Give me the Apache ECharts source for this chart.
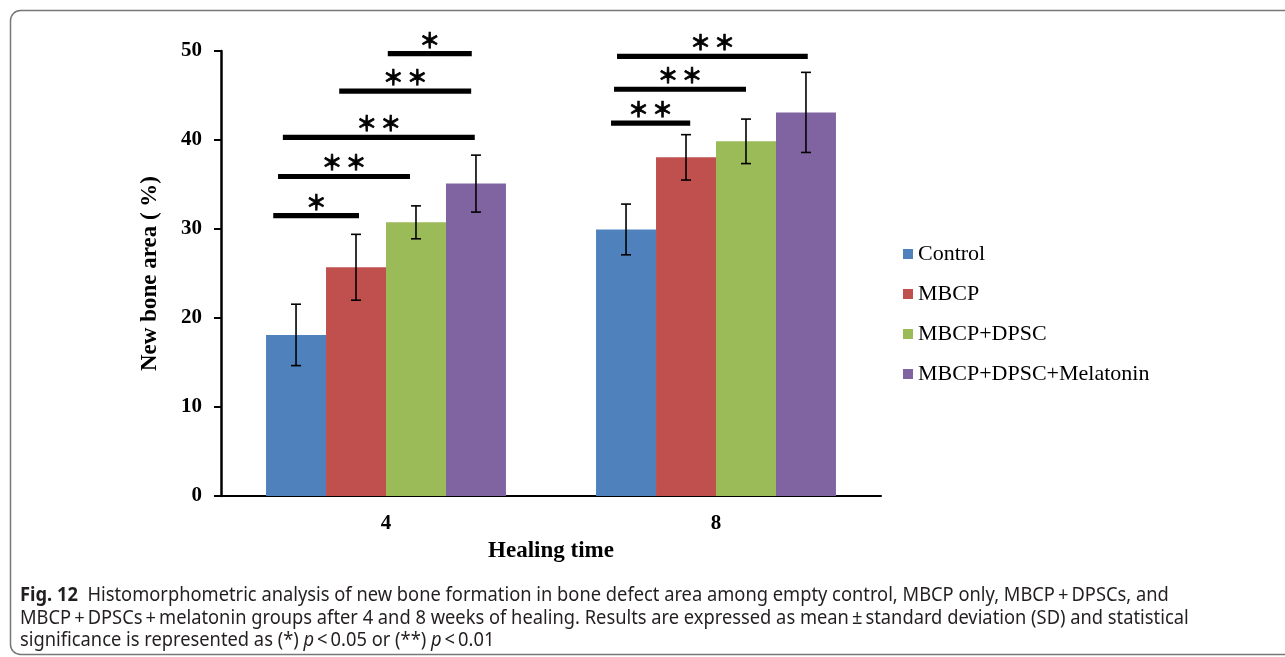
<!DOCTYPE html>
<html>
<head>
<meta charset="utf-8">
<script src="https://cdn.jsdelivr.net/npm/echarts@6/dist/echarts.min.js"></script>
<style>
html, body { margin: 0; padding: 0; background: #fff; }
#chart1 { width: 1285px; height: 657px; }
</style>
</head>
<body>
<div id="chart1"></div>
<script>
// healing time (weeks)
var weeks = ['4', '8'];
var groups = ['Control', 'MBCP', 'MBCP+DPSC', 'MBCP+DPSC+Melatonin'];

// mean new bone area (%)
var control = [18.1, 29.95];
var mbcp = [25.7, 38.05];
var mbcpDpsc = [30.75, 39.85];
var melatonin = [35.1, 43.1];

// standard deviations
var controlSd = [3.45, 2.85];
var mbcpSd = [3.7, 2.55];
var mbcpDpscSd = [1.85, 2.5];
var melatoninSd = [3.2, 4.5];

var yMin = 0, yMax = 50, yStep = 10;

// significance bars: week index, span (in bar widths from the group's left edge), height (%), mark
var sigWeek = [0, 0, 0, 0, 0, 1, 1, 1];
var sigFrom = [0.12, 0.2, 0.28, 1.22, 2.03, 0.25, 0.3, 0.35];
var sigTo = [1.55, 2.4, 3.48, 3.42, 3.43, 1.57, 2.5, 3.53];
var sigLevel = [31.5, 35.9, 40.3, 45.5, 49.7, 41.9, 45.7, 49.4];
var sigMark = ['*', '**', '**', '**', '*', '**', '**', '**'];

var colors = ['#4F81BD', '#C0504D', '#9BBB59', '#8064A2'];
var means = [control, mbcp, mbcpDpsc, melatonin];
var sds = [controlSd, mbcpSd, mbcpDpscSd, melatoninSd];

var gapRatio = 0.273;
var serif = '"Liberation Serif", "Times New Roman", serif';

var chart = echarts.init(document.getElementById('chart1'));

function barWidthOf(api) {
    return api.size([1, 0])[0] * (1 - gapRatio) / groups.length;
}

var errData = [];
for (var s = 0; s < groups.length; s++) {
    for (var w = 0; w < weeks.length; w++) {
        errData.push([w, means[s][w] - sds[s][w], means[s][w] + sds[s][w], s]);
    }
}

var sigData = [];
for (var i = 0; i < sigWeek.length; i++) {
    sigData.push([sigWeek[i], sigFrom[i], sigTo[i], sigLevel[i], sigMark[i].length]);
}

var series = [];
for (var s = 0; s < groups.length; s++) {
    series.push({
        name: groups[s],
        type: 'bar',
        data: means[s],
        barGap: '0%',
        barCategoryGap: (gapRatio * 100) + '%',
        itemStyle: { color: colors[s] }
    });
}

// error bars (mean ± SD)
series.push({
    type: 'custom',
    name: 'sd',
    z: 5,
    data: errData,
    encode: { x: 0, y: [1, 2] },
    renderItem: function (params, api) {
        var bw = barWidthOf(api);
        var idx = api.value(3);
        var lo = api.coord([api.value(0), api.value(1)]);
        var hi = api.coord([api.value(0), api.value(2)]);
        var x = lo[0] + (idx - (groups.length - 1) / 2) * bw;
        var cap = 5;
        var st = { stroke: '#000', lineWidth: 1.6 };
        return {
            type: 'group',
            children: [
                { type: 'line', shape: { x1: x, y1: lo[1], x2: x, y2: hi[1] }, style: st },
                { type: 'line', shape: { x1: x - cap, y1: lo[1], x2: x + cap, y2: lo[1] }, style: st },
                { type: 'line', shape: { x1: x - cap, y1: hi[1], x2: x + cap, y2: hi[1] }, style: st }
            ]
        };
    }
});

// significance bars with asterisks
series.push({
    type: 'custom',
    name: 'sig',
    z: 6,
    data: sigData,
    encode: { x: 0, y: 3 },
    renderItem: function (params, api) {
        var bw = barWidthOf(api);
        var c = api.coord([api.value(0), api.value(3)]);
        var left = c[0] - bw * groups.length / 2;
        var x1 = left + api.value(1) * bw;
        var x2 = left + api.value(2) * bw;
        var mid = (x1 + x2) / 2;
        var n = api.value(4);
        var kids = [{
            type: 'rect',
            shape: { x: x1, y: c[1] - 2.6, width: x2 - x1, height: 5.2 },
            style: { fill: '#000' }
        }];
        for (var k = 0; k < n; k++) {
            kids.push({
                type: 'text',
                x: mid + (k - (n - 1) / 2) * 24,
                y: c[1] - 14,
                style: {
                    text: '\uFF0A',
                    font: 'bold 21px "Noto Sans CJK SC"',
                    fill: '#000',
                    stroke: '#000',
                    lineWidth: 0.7,
                    align: 'center',
                    verticalAlign: 'middle'
                }
            });
        }
        return { type: 'group', children: kids };
    }
});

var captionFont = '20px "Noto Sans"';
var captionScale = 0.915;

var option = {
    animation: false,
    backgroundColor: '#fff',
    grid: { left: 221, right: 404, top: 51, bottom: 161, outerBoundsMode: 'none' },
    legend: {
        data: groups,
        orient: 'vertical',
        left: 903,
        top: 243,
        padding: 0,
        icon: 'rect',
        itemWidth: 10,
        itemHeight: 10,
        itemGap: 18,
        textStyle: { fontFamily: serif, fontSize: 22, lineHeight: 22, color: '#000' }
    },
    xAxis: {
        type: 'category',
        data: weeks,
        name: 'Healing time',
        nameLocation: 'middle',
        nameGap: 44,
        nameTextStyle: { fontFamily: serif, fontSize: 23, fontWeight: 'bold', color: '#000' },
        axisLine: { lineStyle: { color: '#000', width: 2 } },
        axisTick: { show: false },
        axisLabel: { fontFamily: serif, fontSize: 21, fontWeight: 'bold', color: '#000', margin: 17 }
    },
    yAxis: {
        type: 'value',
        min: yMin,
        max: yMax,
        interval: yStep,
        name: 'New bone area ( %)',
        nameLocation: 'middle',
        nameGap: 59,
        nameTextStyle: { fontFamily: serif, fontSize: 23, fontWeight: 'bold', color: '#000' },
        axisLine: { show: true, lineStyle: { color: '#000', width: 2.5 } },
        axisTick: { show: true, length: 7, lineStyle: { color: '#000', width: 2 } },
        splitLine: { show: false },
        axisLabel: { fontFamily: serif, fontSize: 21, fontWeight: 'bold', color: '#000', margin: 19 }
    },
    graphic: [
        {
            type: 'rect',
            shape: { x: 10.5, y: 10.5, width: 1300, height: 644, r: 10 },
            style: { fill: 'none', stroke: '#777', lineWidth: 1.5 },
            silent: true
        },
        {
            type: 'text', x: 20, y: 595, scaleX: captionScale,
            style: {
                text: '{b|Fig. 12}  Histomorphometric analysis of new bone formation in bone defect area among empty control, MBCP only, MBCP\u2009+\u2009DPSCs, and',
                font: captionFont, fill: '#231f20', verticalAlign: 'middle',
                rich: { b: { font: 'bold ' + captionFont, fill: '#231f20' } }
            }
        },
        {
            type: 'text', x: 20, y: 618, scaleX: captionScale,
            style: {
                text: 'MBCP\u2009+\u2009DPSCs\u2009+\u2009melatonin groups after 4 and 8 weeks of healing. Results are expressed as mean\u2009\u00B1\u2009standard deviation (SD) and statistical',
                font: captionFont, fill: '#231f20', verticalAlign: 'middle'
            }
        },
        {
            type: 'text', x: 20, y: 640, scaleX: captionScale,
            style: {
                text: 'significance is represented as (*) {i|p}\u2009<\u20090.05 or (**) {i|p}\u2009<\u20090.01',
                font: captionFont, fill: '#231f20', verticalAlign: 'middle',
                rich: { i: { font: 'italic ' + captionFont, fill: '#231f20' } }
            }
        }
    ],
    series: series
};

chart.setOption(option);
</script>
</body>
</html>
